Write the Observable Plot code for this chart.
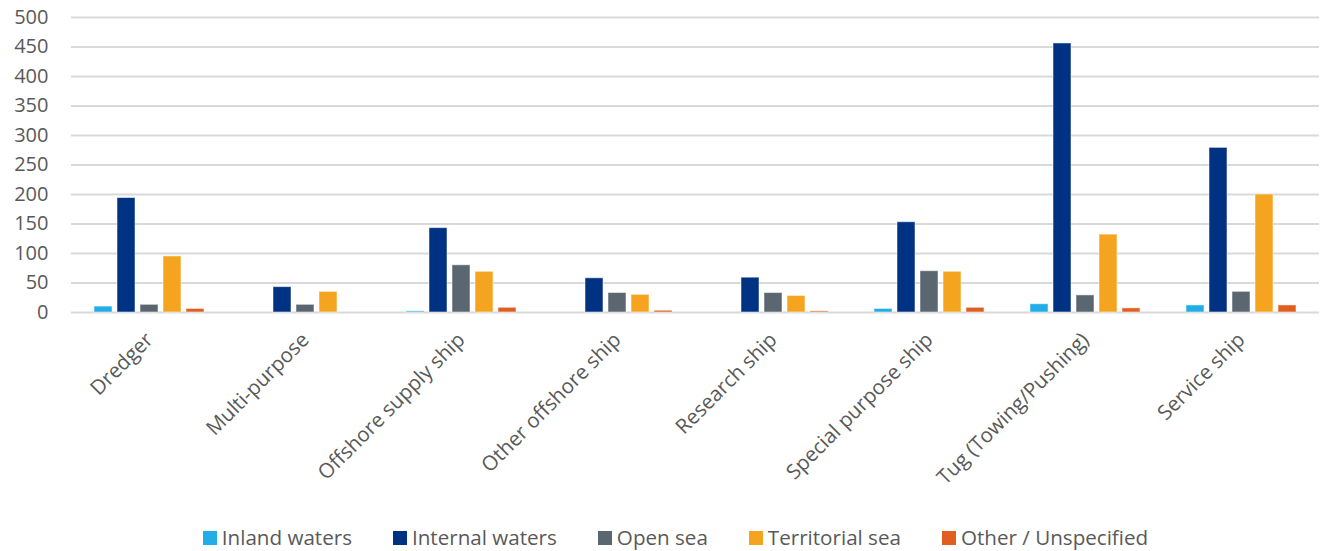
<!DOCTYPE html>
<html>
<head>
<meta charset="utf-8">
<script src="https://cdn.jsdelivr.net/npm/d3@7"></script>
<script src="https://cdn.jsdelivr.net/npm/@observablehq/plot@0.6"></script>
<style>
  html, body { margin: 0; padding: 0; background: #fff; }
  body { width: 1327px; height: 551px; overflow: hidden; font-family: "Open Sans", sans-serif; }
  #chart svg { display: block; }
  #legend { display: flex; justify-content: center; gap: 41px; margin-top: 22px; margin-left: 24px; font-size: 20.6px; color: #595959; line-height: 1; }
  #legend .item { display: flex; align-items: baseline; }
  #legend .sw { display: inline-block; width: 14px; height: 14px; margin-right: 5px; }
</style>
</head>
<body>
<div id="chart"></div>
<div id="legend"></div>
<script>
const categories = ["Dredger", "Multi-purpose", "Offshore supply ship", "Other offshore ship", "Research ship", "Special purpose ship", "Tug (Towing/Pushing)", "Service ship"];
const seriesNames = ["Inland waters", "Internal waters", "Open sea", "Territorial sea", "Other / Unspecified"];
const seriesColors = ["#21aee6", "#003283", "#5a6670", "#f4a41f", "#e05f20"];
const inlandWaters   = [10, 0, 2, 0, 0, 6, 14, 12];
const internalWaters = [194, 43, 143, 58, 59, 153, 456, 279];
const openSea        = [13, 13, 80, 33, 33, 70, 29, 35];
const territorialSea = [95, 35, 69, 30, 28, 69, 132, 200];
const otherUnspec    = [6, 0, 8, 3, 2, 8, 7, 12];
const yTicks = [0, 50, 100, 150, 200, 250, 300, 350, 400, 450, 500];

const seriesValues = [inlandWaters, internalWaters, openSea, territorialSea, otherUnspec];
const data = [];
categories.forEach((c, i) => {
  seriesNames.forEach((s, j) => {
    data.push({category: c, series: s, value: seriesValues[j][i]});
  });
});

const chart = Plot.plot({
  width: 1327,
  height: 505,
  marginLeft: 67,
  marginRight: 5,
  marginTop: 17,
  marginBottom: 193,
  style: {fontFamily: "'Open Sans', sans-serif", color: "#595959", background: "#fff"},
  fx: {domain: categories, padding: 0, label: null, axis: null},
  x: {domain: seriesNames, paddingInner: 0.21, paddingOuter: 0.87, axis: null},
  y: {domain: [0, 500], label: null},
  color: {domain: seriesNames, range: seriesColors},
  marks: [
    Plot.gridY(yTicks, {stroke: "#d9d9d9", strokeOpacity: 1, strokeWidth: 2}),
    Plot.axisY(yTicks, {tickSize: 0, tickPadding: 23, fontSize: 20, fill: "#595959", label: null}),
    Plot.barY(data, {fx: "category", x: "series", y: "value", fill: "series", stroke: "#ffffff", strokeOpacity: 0.5, strokeWidth: 1}),
    Plot.text(categories, {fx: d => d, text: d => d, frameAnchor: "bottom", rotate: -45, textAnchor: "end", lineAnchor: "middle", dy: 24, fontSize: 20.5, fill: "#595959"})
  ]
});
document.getElementById("chart").appendChild(chart);

const legend = document.getElementById("legend");
seriesNames.forEach((s, j) => {
  const item = document.createElement("div");
  item.className = "item";
  const sw = document.createElement("span");
  sw.className = "sw";
  sw.style.background = seriesColors[j];
  const t = document.createElement("span");
  t.textContent = s;
  item.appendChild(sw);
  item.appendChild(t);
  legend.appendChild(item);
});
</script>
</body>
</html>
